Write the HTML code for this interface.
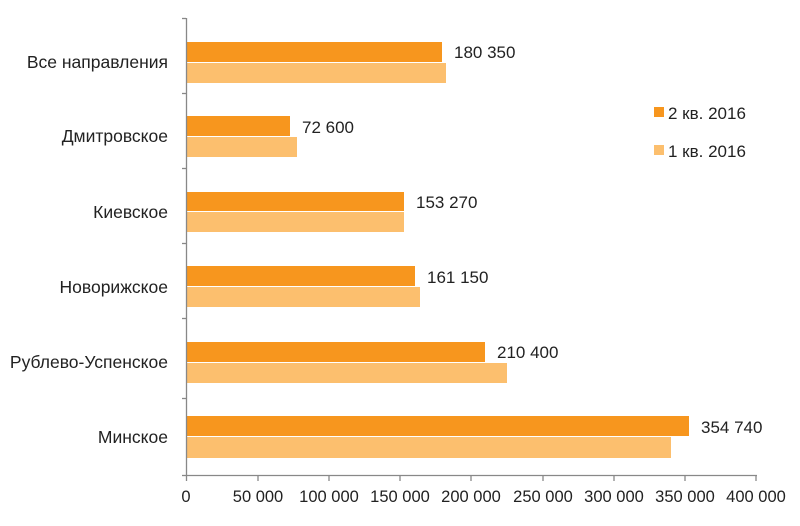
<!DOCTYPE html>
<html><head><meta charset="utf-8"><style>body{margin:0;background:#fff}svg{display:block}text{font-family:"Liberation Sans",sans-serif;fill:#222}</style></head><body>
<svg width="800" height="526" xmlns="http://www.w3.org/2000/svg">
<g fill="#F7961E">
<rect x="186" y="42" width="256" height="20"/>
<rect x="186" y="116" width="104" height="20"/>
<rect x="186" y="192" width="218" height="19"/>
<rect x="186" y="266" width="229" height="20"/>
<rect x="186" y="342" width="299" height="20"/>
<rect x="186" y="416" width="503" height="20"/>
</g>
<g fill="#FCBF6E">
<rect x="186" y="63" width="260" height="20"/>
<rect x="186" y="137" width="111" height="20"/>
<rect x="186" y="212" width="218" height="20"/>
<rect x="186" y="287" width="234" height="20"/>
<rect x="186" y="363" width="321" height="20"/>
<rect x="186" y="437" width="485" height="21"/>
</g>
<g stroke="#888" stroke-width="1.3">
<line x1="186.5" y1="18" x2="186.5" y2="476"/>
<line x1="186" y1="475.5" x2="757" y2="475.5"/>
<line x1="182" y1="18.5" x2="186" y2="18.5"/><line x1="182" y1="93.5" x2="186" y2="93.5"/><line x1="182" y1="168.5" x2="186" y2="168.5"/><line x1="182" y1="243.5" x2="186" y2="243.5"/><line x1="182" y1="318.5" x2="186" y2="318.5"/><line x1="182" y1="398.5" x2="186" y2="398.5"/><line x1="182" y1="475.5" x2="186" y2="475.5"/>
<line x1="186.5" y1="475" x2="186.5" y2="481"/><line x1="258" y1="475" x2="258" y2="481"/><line x1="329" y1="475" x2="329" y2="481"/><line x1="400" y1="475" x2="400" y2="481"/><line x1="471" y1="475" x2="471" y2="481"/><line x1="543" y1="475" x2="543" y2="481"/><line x1="614" y1="475" x2="614" y2="481"/><line x1="685" y1="475" x2="685" y2="481"/><line x1="756" y1="475" x2="756" y2="481"/>
</g>
<g font-size="17.5" text-anchor="end">
<text x="168" y="68">Все направления</text>
<text x="168" y="142">Дмитровское</text>
<text x="168" y="218">Киевское</text>
<text x="168" y="293">Новорижское</text>
<text x="168" y="368">Рублево-Успенское</text>
<text x="168" y="443">Минское</text>
</g>
<g font-size="16.5" text-anchor="middle">
<text x="186" y="502">0</text><text x="258" y="502">50 000</text><text x="329" y="502">100 000</text><text x="400" y="502">150 000</text><text x="471" y="502">200 000</text><text x="543" y="502">250 000</text><text x="614" y="502">300 000</text><text x="685" y="502">350 000</text><text x="756" y="502">400 000</text>
</g>
<g font-size="17">
<text x="454" y="58">180 350</text>
<text x="302" y="133">72 600</text>
<text x="416" y="208">153 270</text>
<text x="427" y="283">161 150</text>
<text x="497" y="358">210 400</text>
<text x="701" y="433">354 740</text>
<text x="668" y="119">2 кв. 2016</text>
<text x="668" y="157">1 кв. 2016</text>
</g>
<rect x="654" y="107" width="10" height="10" fill="#F7961E"/>
<rect x="654" y="145" width="10" height="10" fill="#FCBF6E"/>
</svg>
</body></html>
